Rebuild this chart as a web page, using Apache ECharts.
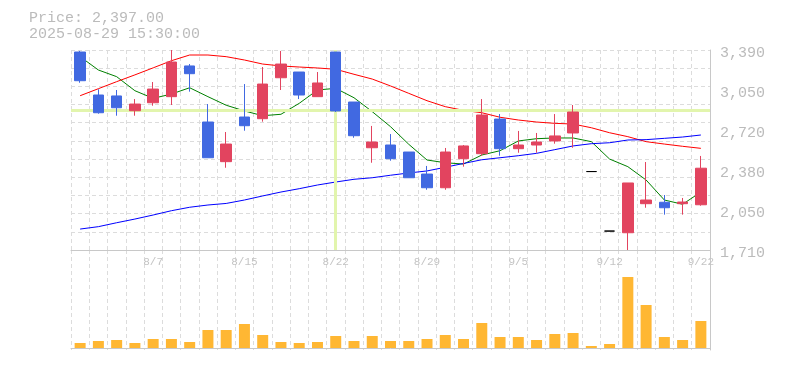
<!DOCTYPE html>
<html><head><meta charset="utf-8">
<script src="https://cdn.jsdelivr.net/npm/echarts@6/dist/echarts.min.js"></script>
<style>html,body{margin:0;padding:0;background:#fff}#c{width:785px;height:370px}</style>
</head><body><div id="c"></div>
<script>
const dates = ['8/1','8/4','8/5','8/6','8/7','8/8','8/12','8/13','8/14','8/15','8/18','8/19','8/20','8/21','8/22','8/25','8/26','8/27','8/28','8/29','9/1','9/2','9/3','9/4','9/5','9/8','9/9','9/10','9/11','9/12','9/16','9/17','9/18','9/19','9/22'];
const opens  = [3373,3012,3004,2880,2947,2998,3256,2785,2452,2827,2813,3157,3205,2998,3373,2953,2569,2592,2533,2348,2233,2477,2519,2810,2561,2592,2626,2693,2369,1869,1855,2099,2111,2099,2090];
const closes = [3132,2863,2905,2936,3062,3289,3191,2485,2600,2754,3104,3272,3012,3113,2878,2670,2617,2477,2317,2233,2533,2584,2844,2561,2592,2617,2668,2869,2369,1869,2273,2130,2065,2113,2397];
const lows   = [3115,2855,2838,2838,2922,2928,3040,2485,2401,2712,2788,3054,2978,2998,2869,2653,2443,2460,2317,2216,2216,2410,2502,2502,2527,2527,2603,2569,2369,1869,1710,2065,2007,2007,2082];
const highs  = [3382,3060,3054,2978,3121,3390,3272,2936,2701,3104,3247,3382,3205,3205,3373,2953,2752,2684,2533,2416,2567,2592,2978,2852,2710,2693,2852,2928,2369,1869,2273,2449,2172,2147,2500];
const volumes = [50000,70000,80000,50000,90000,90000,60000,180000,180000,240000,130000,60000,50000,60000,120000,70000,120000,70000,70000,90000,130000,90000,250000,110000,110000,80000,140000,150000,20000,40000,710000,430000,110000,80000,270000];
const maShort = [3334,3222,3166,3048,2984,3020,3073,2998,2926,2878,2838,2850,2942,3054,3068,2989,2872,2746,2598,2466,2443,2432,2508,2544,2626,2645,2651,2651,2620,2474,2410,2298,2130,2094,2197];
const maMid   = [3006,3065,3124,3181,3240,3300,3348,3348,3334,3306,3272,3256,3247,3239,3228,3186,3146,3088,3026,2964,2914,2883,2863,2825,2802,2785,2774,2768,2737,2695,2662,2620,2600,2581,2564];
const maLong  = [1886,1906,1939,1970,2004,2040,2069,2088,2101,2130,2164,2197,2225,2256,2281,2304,2317,2338,2357,2374,2405,2437,2468,2485,2502,2522,2553,2584,2603,2611,2634,2637,2648,2659,2676];
const priceTicks = ['1,710','2,050','2,380','2,720','3,050','3,390'];
const priceMin = 1710, priceMax = 3390, priceStep = 336;
const titleLines = ['Price: 2,397.00', '2025-08-29 15:30:00'];
const crossPrice = 2886, crossDate = '8/22';

const mono = "'Liberation Mono', 'DejaVu Sans Mono', monospace";
const gridDash = {color: '#dcdcdc', width: 1, type: [4, 3]};
const axisSolid = {show: true, lineStyle: {color: '#c8c8c8', width: 1}};

const candles = dates.map((d, i) => [opens[i], closes[i], lows[i], highs[i]]);

const chart = echarts.init(document.getElementById('c'), null, {renderer: 'canvas'});
chart.setOption({
  animation: false,
  backgroundColor: '#fff',
  title: {
    text: titleLines.join('\n'), left: 29, top: 10, padding: 0,
    textStyle: {fontFamily: mono, fontSize: 15, color: '#bbbbbb', fontWeight: 'normal', lineHeight: 16}
  },
  grid: [
    {left: 71, right: 75, top: 50, height: 200},
    {left: 71, right: 75, top: 250, height: 100}
  ],
  xAxis: [
    {type: 'category', gridIndex: 0, data: dates, boundaryGap: true,
     axisLine: axisSolid, axisTick: {show: false},
     axisLabel: {interval: (i) => i % 5 === 4, color: '#c4c4c4', fontFamily: mono, fontSize: 11, margin: 7},
     splitLine: {show: true, interval: 0, lineStyle: gridDash}},
    {type: 'category', gridIndex: 1, data: dates, boundaryGap: true,
     axisLine: axisSolid, axisTick: {show: false}, axisLabel: {show: false},
     splitLine: {show: true, interval: 0, lineStyle: gridDash}}
  ],
  yAxis: [
    {type: 'value', gridIndex: 0, position: 'right', min: priceMin, max: priceMax, interval: priceStep,
     axisLine: axisSolid, axisTick: {show: false}, splitLine: {show: false},
     axisLabel: {formatter: (v, idx) => priceTicks[idx], color: '#bbbbbb', fontFamily: mono, fontSize: 15, margin: 10,
                 verticalAlign: 'top', lineHeight: 7}},
    {type: 'value', gridIndex: 0, position: 'left', min: 0, max: 11, interval: 1,
     axisLine: {show: false}, axisTick: {show: false}, axisLabel: {show: false},
     splitLine: {show: true, lineStyle: gridDash}},
    {type: 'value', gridIndex: 1, position: 'right', min: -20000, max: 980000,
     axisLine: axisSolid, axisTick: {show: false}, axisLabel: {show: false}, splitLine: {show: false}}
  ],
  series: [
    {type: 'line', xAxisIndex: 0, yAxisIndex: 0, data: [], z: 1, silent: true,
     markLine: {silent: true, symbol: 'none', label: {show: false},
       lineStyle: {color: '#e2f5ad', width: 3, type: 'solid'},
       data: [{yAxis: crossPrice}, {xAxis: crossDate}]}},
    {type: 'line', name: 'short', xAxisIndex: 0, yAxisIndex: 0, data: maShort, z: 3, symbol: 'none',
     lineStyle: {color: '#008000', width: 1}},
    {type: 'line', name: 'mid', xAxisIndex: 0, yAxisIndex: 0, data: maMid, z: 3, symbol: 'none',
     lineStyle: {color: '#ff0000', width: 1}},
    {type: 'line', name: 'long', xAxisIndex: 0, yAxisIndex: 0, data: maLong, z: 3, symbol: 'none',
     lineStyle: {color: '#0000ff', width: 1}},
    {type: 'candlestick', xAxisIndex: 0, yAxisIndex: 0, data: candles, z: 5, barWidth: 11,
     itemStyle: {color: '#e2445f', color0: '#4169e1', borderColor: '#e2445f', borderColor0: '#4169e1', borderColorDoji: '#000000', borderWidth: 1}},
    {type: 'bar', xAxisIndex: 1, yAxisIndex: 2, data: volumes, barWidth: 11,
     itemStyle: {color: '#ffb733'}}
  ]
});
</script></body></html>
